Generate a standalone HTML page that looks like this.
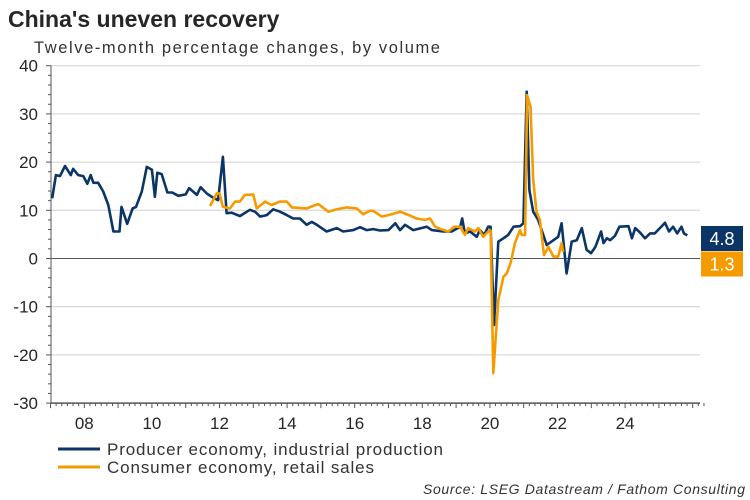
<!DOCTYPE html>
<html><head><meta charset="utf-8"><style>
body{margin:0;background:#fff;width:750px;height:500px;overflow:hidden;font-family:"Liberation Sans",Arial,sans-serif}
svg{display:block}
</style></head><body>
<svg id="chart" width="750" height="500" viewBox="0 0 750 500">
<text x="8" y="27" font-size="23" font-weight="bold" fill="#262626">China's uneven recovery</text>
<text x="34" y="53" font-size="16.5" fill="#333" textLength="406" lengthAdjust="spacing">Twelve-month percentage changes, by volume</text>
<g id="grid"></g>
<g id="axes"></g>
<g id="series"></g>
<g id="labels"></g>
<g>
<line x1="58" y1="449" x2="100" y2="449" stroke="#0b3566" stroke-width="3"/>
<text x="107" y="455" font-size="17" fill="#333" textLength="336" lengthAdjust="spacing">Producer economy, industrial production</text>
<line x1="58" y1="467" x2="100" y2="467" stroke="#f59b00" stroke-width="3"/>
<text x="107" y="473" font-size="17" fill="#333" textLength="267" lengthAdjust="spacing">Consumer economy, retail sales</text>
</g>
<text x="423" y="494" font-size="14" font-style="italic" fill="#333" textLength="322" lengthAdjust="spacing">Source: LSEG Datastream / Fathom Consulting</text>
</svg>
<script>
const yTicks=[40,30,20,10,0,-10,-20,-30];
const xTickYears=[2008,2010,2012,2014,2016,2018,2020,2022,2024];
const xTickLabels=["08","10","12","14","16","18","20","22","24"];
const prodDates=[2007.05,2007.16,2007.28,2007.43,2007.6,2007.67,2007.82,2007.97,2008.09,2008.19,2008.27,2008.41,2008.56,2008.71,2008.86,2009.04,2009.1,2009.27,2009.43,2009.53,2009.7,2009.85,2010.0,2010.09,2010.16,2010.29,2010.46,2010.6,2010.78,2011.0,2011.1,2011.33,2011.44,2011.62,2011.77,2011.96,2012.1,2012.21,2012.36,2012.6,2012.9,2013.05,2013.2,2013.4,2013.59,2013.79,2013.99,2014.18,2014.38,2014.58,2014.73,2014.88,2015.17,2015.47,2015.66,2015.96,2016.16,2016.35,2016.55,2016.75,2017.0,2017.2,2017.34,2017.49,2017.73,2018.13,2018.28,2018.62,2018.87,2019.12,2019.18,2019.26,2019.41,2019.61,2019.7,2019.83,2019.95,2020.02,2020.12,2020.25,2020.4,2020.54,2020.7,2020.89,2020.99,2021.09,2021.17,2021.28,2021.43,2021.68,2022.02,2022.12,2022.27,2022.42,2022.57,2022.72,2022.86,2022.99,2023.12,2023.29,2023.36,2023.46,2023.56,2023.7,2023.83,2024.1,2024.2,2024.3,2024.44,2024.59,2024.74,2024.88,2025.03,2025.18,2025.3,2025.42,2025.54,2025.67,2025.74,2025.84];
const prodValues=[12.5,17.3,17.1,19.2,17.3,18.6,17.3,17.1,15.5,17.3,15.7,15.7,13.9,11.1,5.6,5.6,10.7,7.2,10.4,10.7,13.9,19.0,18.4,12.8,17.8,17.5,13.7,13.7,13.0,13.3,14.6,13.2,14.8,13.5,12.8,12.1,21.1,9.4,9.5,8.8,10.1,9.7,8.7,9.0,10.2,9.7,9.0,8.3,8.3,7.0,7.6,7.0,5.6,6.3,5.6,5.9,6.5,5.9,6.1,5.8,5.9,7.3,5.9,7.0,5.9,6.6,5.9,5.6,5.6,6.6,8.3,5.2,5.6,4.5,5.9,4.9,6.6,6.6,-13.8,3.5,4.2,4.9,6.6,6.7,7.3,34.6,14.2,9.7,8.0,2.8,4.5,7.3,-3.1,3.5,3.8,6.3,1.8,1.1,2.4,5.6,3.2,4.2,3.8,4.7,6.6,6.7,4.2,6.3,5.4,4.2,5.2,5.2,6.3,7.4,5.6,6.6,5.2,6.6,5.2,4.8];
const retDates=[2011.72,2011.92,2012.0,2012.1,2012.31,2012.46,2012.6,2012.75,2013.0,2013.1,2013.35,2013.54,2013.79,2013.99,2014.14,2014.58,2014.92,2015.22,2015.47,2015.76,2016.06,2016.25,2016.45,2016.55,2016.8,2017.0,2017.34,2017.6,2017.83,2018.08,2018.23,2018.38,2018.55,2018.77,2018.95,2019.12,2019.26,2019.36,2019.56,2019.66,2019.8,2019.95,2020.02,2020.1,2020.25,2020.4,2020.5,2020.62,2020.74,2020.89,2020.94,2021.04,2021.1,2021.2,2021.28,2021.38,2021.48,2021.6,2021.73,2021.88,2022.02,2022.12,2022.17];
const retValues=[10.9,13.5,13.5,10.7,10.4,11.8,11.8,13.2,13.3,10.4,11.8,11.1,11.8,11.8,10.6,10.4,11.3,9.7,10.2,10.6,10.4,9.2,9.9,9.9,8.7,9.0,9.7,9.0,8.3,8.0,8.3,6.6,6.1,5.6,6.6,6.6,4.9,6.3,5.6,6.3,4.5,5.6,5.8,-23.8,-8.6,-3.8,-3.1,-0.7,3.2,5.9,4.9,4.9,33.9,31.5,16.3,9.7,8.0,0.7,2.4,0.4,0.4,3.2,1.3];
const endLabels=["4.8","1.3"];

const NS="http://www.w3.org/2000/svg";
const X0=50.5,PX=33.8,Y0=258.5,PY=4.82;
const xs=t=>X0+(t-2007)*PX, ys=v=>Y0-v*PY;
function mk(tag,attrs,parent){const e=document.createElementNS(NS,tag);for(const k in attrs)e.setAttribute(k,attrs[k]);parent.appendChild(e);return e;}
const grid=document.getElementById('grid'),axes=document.getElementById('axes'),ser=document.getElementById('series'),lab=document.getElementById('labels');
yTicks.forEach(v=>{
  if(v!==0&&v!==-30){const g=mk('line',{x1:51,x2:700,y1:ys(v),y2:ys(v),stroke:'#d0d0d0','stroke-width':1},grid);
  
  }
  const t=mk('text',{x:38,y:ys(v)+6,'font-size':17,'text-anchor':'end',fill:'#262626'},axes);
  t.textContent=v;
  
  
});
for(let v=-30;v<=40;v+=2){const m=mk('line',{x1:v%10===0?46:48,x2:51,y1:ys(v),y2:ys(v),stroke:'#555','stroke-width':1},axes);
  
  }
const zl=mk('line',{x1:51,x2:700,y1:ys(0),y2:ys(0),stroke:'#555','stroke-width':1},axes);


const ya=mk('line',{x1:51,x2:51,y1:ys(40),y2:ys(-30),stroke:'#555','stroke-width':1},axes);


const xa=mk('line',{x1:51,x2:700,y1:ys(-30),y2:ys(-30),stroke:'#555','stroke-width':1.5},axes);


for(let m=0;m*2/12+2007<=2026.35;m++){const t=2007+m*2/12;const maj=m%6===0;
  const tk=mk('line',{x1:xs(t),x2:xs(t),y1:ys(-30),y2:ys(-30)+(maj?5:3),stroke:'#555','stroke-width':1},axes);
  
  }
xTickYears.forEach((y,i)=>{const t=mk('text',{x:xs(y),y:429,'font-size':17,'text-anchor':'middle',fill:'#262626'},axes);
  t.textContent=xTickLabels[i];
  
  });
function line(d,v,col,name){const p=mk('polyline',{points:d.map((t,i)=>xs(t).toFixed(1)+','+ys(v[i]).toFixed(1)).join(' '),fill:'none',stroke:col,'stroke-width':2.6,'stroke-linejoin':'round'},ser);
  
  }
line(prodDates,prodValues,'#0b3566','producer-line');
line(retDates,retValues,'#f59b00','consumer-line');
const lbls=[[endLabels[0],'#0b3566',226],[endLabels[1],'#f59b00',251.5]];
lbls.forEach((l,i)=>{const r=mk('rect',{x:701,y:l[2],width:42,height:25,fill:l[1]},lab);
  
  
  const t=mk('text',{x:722,y:l[2]+19,'font-size':18,'text-anchor':'middle',fill:'#fff'},lab);
  t.textContent=l[0];
  
  });
</script>
</body></html>
